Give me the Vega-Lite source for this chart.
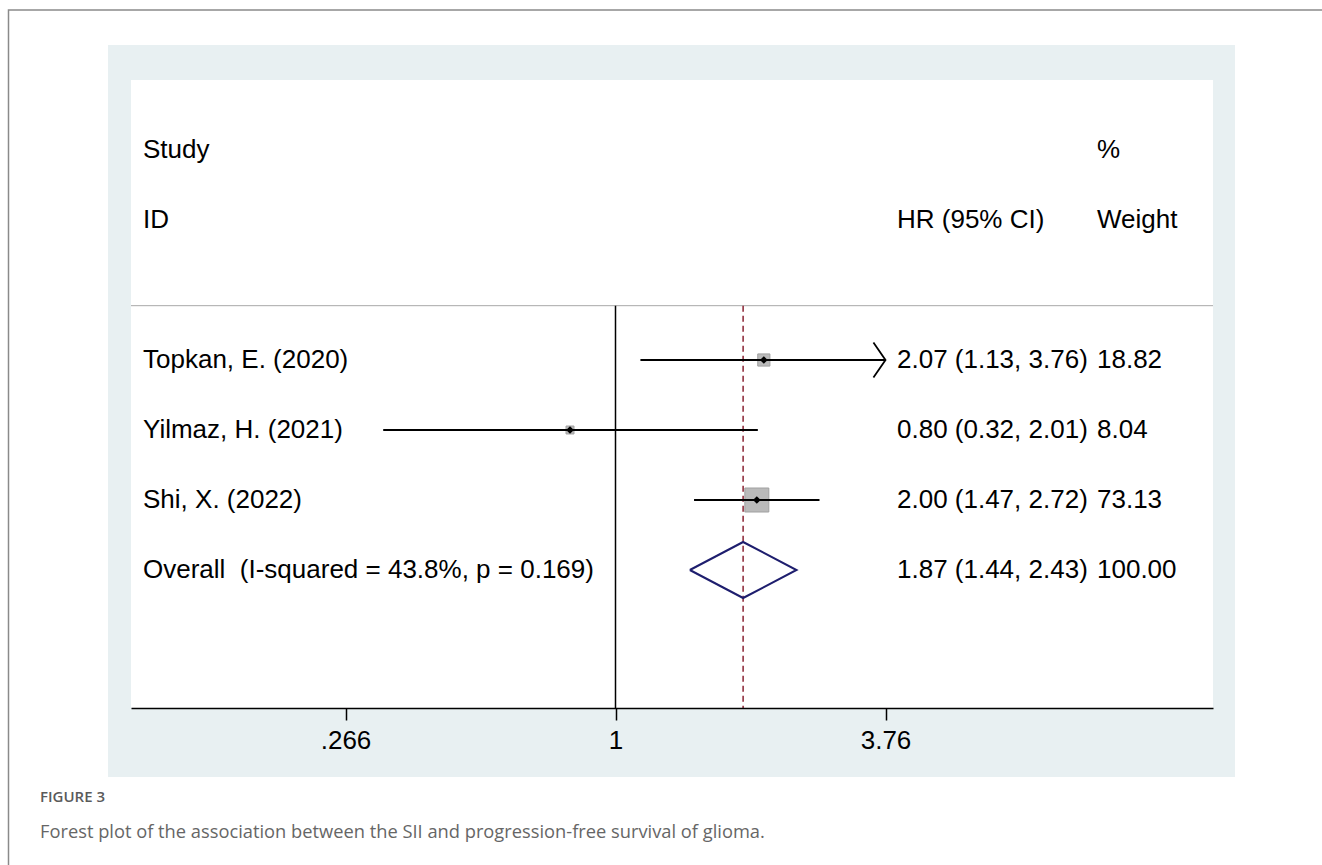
{
  "$schema": "https://vega.github.io/schema/vega-lite/v6.json",
  "width": 1082,
  "height": 628,
  "autosize": {"type": "none"},
  "padding": {"left": 131, "top": 80, "right": 109, "bottom": 157},
  "background": "white",
  "config": {
    "view": {"stroke": null},
    "text": {"font": "Liberation Sans", "fontSize": 26, "color": "black"}
  },
  "datasets": {
    "studies": [
      {"study": "Topkan, E. (2020)", "row": 4, "hr": 2.07, "lo": 1.13, "hi": 3.76, "weight": 18.82, "ci": "2.07 (1.13, 3.76)", "wt": "18.82", "overall": false},
      {"study": "Yilmaz, H. (2021)", "row": 5, "hr": 0.80, "lo": 0.32, "hi": 2.01, "weight": 8.04, "ci": "0.80 (0.32, 2.01)", "wt": "8.04", "overall": false},
      {"study": "Shi, X. (2022)", "row": 6, "hr": 2.00, "lo": 1.47, "hi": 2.72, "weight": 73.13, "ci": "2.00 (1.47, 2.72)", "wt": "73.13", "overall": false},
      {"study": "Overall\u00a0 (I-squared = 43.8%, p = 0.169)", "row": 7, "hr": 1.87, "lo": 1.44, "hi": 2.43, "weight": 100, "ci": "1.87 (1.44, 2.43)", "wt": "100.00", "overall": true}
    ],
    "headers": [
      {"label": "Study", "row": 1, "col": "id"},
      {"label": "ID", "row": 2, "col": "id"},
      {"label": "%", "row": 1, "col": "wt"},
      {"label": "HR (95% CI)", "row": 2, "col": "ci"},
      {"label": "Weight", "row": 2, "col": "wt"}
    ],
    "pooled": [
      {"v": 1, "x": 1.44, "row": 7},
      {"v": 2, "x": 1.87, "row": 6.6},
      {"v": 3, "x": 2.43, "row": 7},
      {"v": 4, "x": 1.87, "row": 7.4},
      {"v": 5, "x": 1.44, "row": 7}
    ]
  },
  "layer": [
    {
      "data": {"values": [{}]},
      "mark": {"type": "rect", "clip": false, "fill": "#e8f0f2"},
      "encoding": {
        "x": {
          "datum": 0.082966,
          "type": "quantitative",
          "title": null,
          "scale": {"type": "log", "domain": [0.092873, 18.7424], "nice": false},
          "axis": {
            "title": null,
            "values": [0.266, 1, 3.76],
            "labelExpr": "slice(format(datum.value, '.3~f'), datum.value < 1 ? 1 : 0)",
            "grid": false,
            "zindex": 1,
            "domainColor": "black",
            "domainWidth": 1.5,
            "tickColor": "black",
            "tickWidth": 1.5,
            "tickSize": 12,
            "labelPadding": 7,
            "labelFont": "Liberation Sans",
            "labelFontSize": 26,
            "labelColor": "black"
          }
        },
        "x2": {"datum": 20.878},
        "y": {
          "datum": -0.5,
          "type": "quantitative",
          "title": null,
          "scale": {"type": "linear", "domain": [0, 8.9714], "reverse": true, "nice": false, "zero": false},
          "axis": null
        },
        "y2": {"datum": 9.957}
      }
    },
    {
      "data": {"values": [{}]},
      "mark": {"type": "rect", "clip": false, "fill": null, "stroke": "#8a8a8a", "strokeWidth": 1.5},
      "encoding": {
        "x": {"datum": 0.050926, "type": "quantitative", "title": null},
        "x2": {"datum": 60},
        "y": {"datum": -1, "type": "quantitative", "title": null, "axis": null},
        "y2": {"datum": 12}
      }
    },
    {
      "data": {"values": [{}]},
      "mark": {"type": "rect", "clip": false, "fill": "white"},
      "encoding": {
        "x": {"datum": 0.092873, "type": "quantitative", "title": null},
        "x2": {"datum": 18.7424},
        "y": {"datum": 0, "type": "quantitative", "title": null, "axis": null},
        "y2": {"datum": 8.9714}
      }
    },
    {
      "data": {"values": [{}]},
      "mark": {"type": "rule", "color": "#a9a9a9", "strokeWidth": 1},
      "encoding": {
        "y": {"datum": 3.224, "type": "quantitative", "title": null, "axis": null}
      }
    },
    {
      "data": {"values": [{}]},
      "mark": {"type": "rule", "color": "black", "strokeWidth": 1.5},
      "encoding": {
        "x": {"datum": 1, "type": "quantitative", "title": null},
        "y": {"datum": 3.224, "type": "quantitative", "title": null, "axis": null},
        "y2": {"datum": 8.9714}
      }
    },
    {
      "data": {"name": "studies"},
      "transform": [{"filter": "!datum.overall"}],
      "mark": {"type": "point", "shape": "square", "filled": true, "fill": "#bababa", "stroke": "#a0a0a0", "strokeWidth": 1, "opacity": 1},
      "encoding": {
        "x": {"field": "hr", "type": "quantitative", "title": null},
        "y": {"field": "row", "type": "quantitative", "title": null, "axis": null},
        "size": {"field": "weight", "type": "quantitative", "scale": {"domain": [0, 73.13], "range": [0, 576]}, "legend": null}
      }
    },
    {
      "data": {"name": "studies"},
      "transform": [{"filter": "datum.overall"}],
      "mark": {"type": "rule", "color": "#8b2332", "strokeWidth": 1.5, "strokeDash": [6, 4]},
      "encoding": {
        "x": {"field": "hr", "type": "quantitative", "title": null},
        "y": {"datum": 3.224, "type": "quantitative", "title": null, "axis": null},
        "y2": {"datum": 8.9714}
      }
    },
    {
      "data": {"name": "studies"},
      "transform": [{"filter": "!datum.overall"}],
      "mark": {"type": "rule", "color": "black", "strokeWidth": 2},
      "encoding": {
        "x": {"field": "lo", "type": "quantitative", "title": null},
        "x2": {"field": "hi"},
        "y": {"field": "row", "type": "quantitative", "title": null, "axis": null}
      }
    },
    {
      "data": {"name": "studies"},
      "transform": [{"filter": "!datum.overall && datum.hi >= 3.76"}],
      "mark": {"type": "point", "shape": "M-0.69,-1L0,0L-0.69,1", "filled": false, "stroke": "black", "strokeWidth": 1.8, "size": 1225, "opacity": 1},
      "encoding": {
        "x": {"field": "hi", "type": "quantitative", "title": null},
        "y": {"field": "row", "type": "quantitative", "title": null, "axis": null}
      }
    },
    {
      "data": {"name": "studies"},
      "transform": [{"filter": "!datum.overall"}],
      "mark": {"type": "point", "shape": "diamond", "filled": true, "fill": "black", "size": 60, "opacity": 1},
      "encoding": {
        "x": {"field": "hr", "type": "quantitative", "title": null},
        "y": {"field": "row", "type": "quantitative", "title": null, "axis": null}
      }
    },
    {
      "data": {"name": "pooled"},
      "mark": {"type": "line", "color": "#1e1e6e", "strokeWidth": 2, "strokeJoin": "miter"},
      "encoding": {
        "x": {"field": "x", "type": "quantitative", "title": null},
        "y": {"field": "row", "type": "quantitative", "title": null, "axis": null},
        "order": {"field": "v"}
      }
    },
    {
      "data": {"name": "studies"},
      "mark": {"type": "text", "align": "left", "baseline": "middle"},
      "encoding": {
        "x": {"datum": 0.098512, "type": "quantitative", "title": null},
        "y": {"field": "row", "type": "quantitative", "title": null, "axis": null},
        "text": {"field": "study"}
      }
    },
    {
      "data": {"name": "studies"},
      "mark": {"type": "text", "align": "left", "baseline": "middle"},
      "encoding": {
        "x": {"datum": 3.9778, "type": "quantitative", "title": null},
        "y": {"field": "row", "type": "quantitative", "title": null, "axis": null},
        "text": {"field": "ci"}
      }
    },
    {
      "data": {"name": "studies"},
      "mark": {"type": "text", "align": "left", "baseline": "middle"},
      "encoding": {
        "x": {"datum": 10.61, "type": "quantitative", "title": null},
        "y": {"field": "row", "type": "quantitative", "title": null, "axis": null},
        "text": {"field": "wt"}
      }
    },
    {
      "data": {"name": "headers"},
      "transform": [{"filter": "datum.col == 'id'"}],
      "mark": {"type": "text", "align": "left", "baseline": "middle"},
      "encoding": {
        "x": {"datum": 0.098512, "type": "quantitative", "title": null},
        "y": {"field": "row", "type": "quantitative", "title": null, "axis": null},
        "text": {"field": "label"}
      }
    },
    {
      "data": {"name": "headers"},
      "transform": [{"filter": "datum.col == 'ci'"}],
      "mark": {"type": "text", "align": "left", "baseline": "middle"},
      "encoding": {
        "x": {"datum": 3.9778, "type": "quantitative", "title": null},
        "y": {"field": "row", "type": "quantitative", "title": null, "axis": null},
        "text": {"field": "label"}
      }
    },
    {
      "data": {"name": "headers"},
      "transform": [{"filter": "datum.col == 'wt'"}],
      "mark": {"type": "text", "align": "left", "baseline": "middle"},
      "encoding": {
        "x": {"datum": 10.61, "type": "quantitative", "title": null},
        "y": {"field": "row", "type": "quantitative", "title": null, "axis": null},
        "text": {"field": "label"}
      }
    },
    {
      "data": {"values": [{}]},
      "mark": {"type": "text", "clip": false, "align": "left", "baseline": "middle", "font": "Open Sans", "fontSize": 15, "fontWeight": 600, "color": "#5a5a5a", "text": "FIGURE 3"},
      "encoding": {
        "x": {"datum": 0.059435, "type": "quantitative", "title": null},
        "y": {"datum": 10.243, "type": "quantitative", "title": null, "axis": null}
      }
    },
    {
      "data": {"values": [{}]},
      "mark": {"type": "text", "clip": false, "align": "left", "baseline": "middle", "font": "Open Sans", "fontSize": 18.3, "color": "#666666", "text": "Forest plot of the association between the SII and progression-free survival of glioma."},
      "encoding": {
        "x": {"datum": 0.059435, "type": "quantitative", "title": null},
        "y": {"datum": 10.757, "type": "quantitative", "title": null, "axis": null}
      }
    }
  ]
}
